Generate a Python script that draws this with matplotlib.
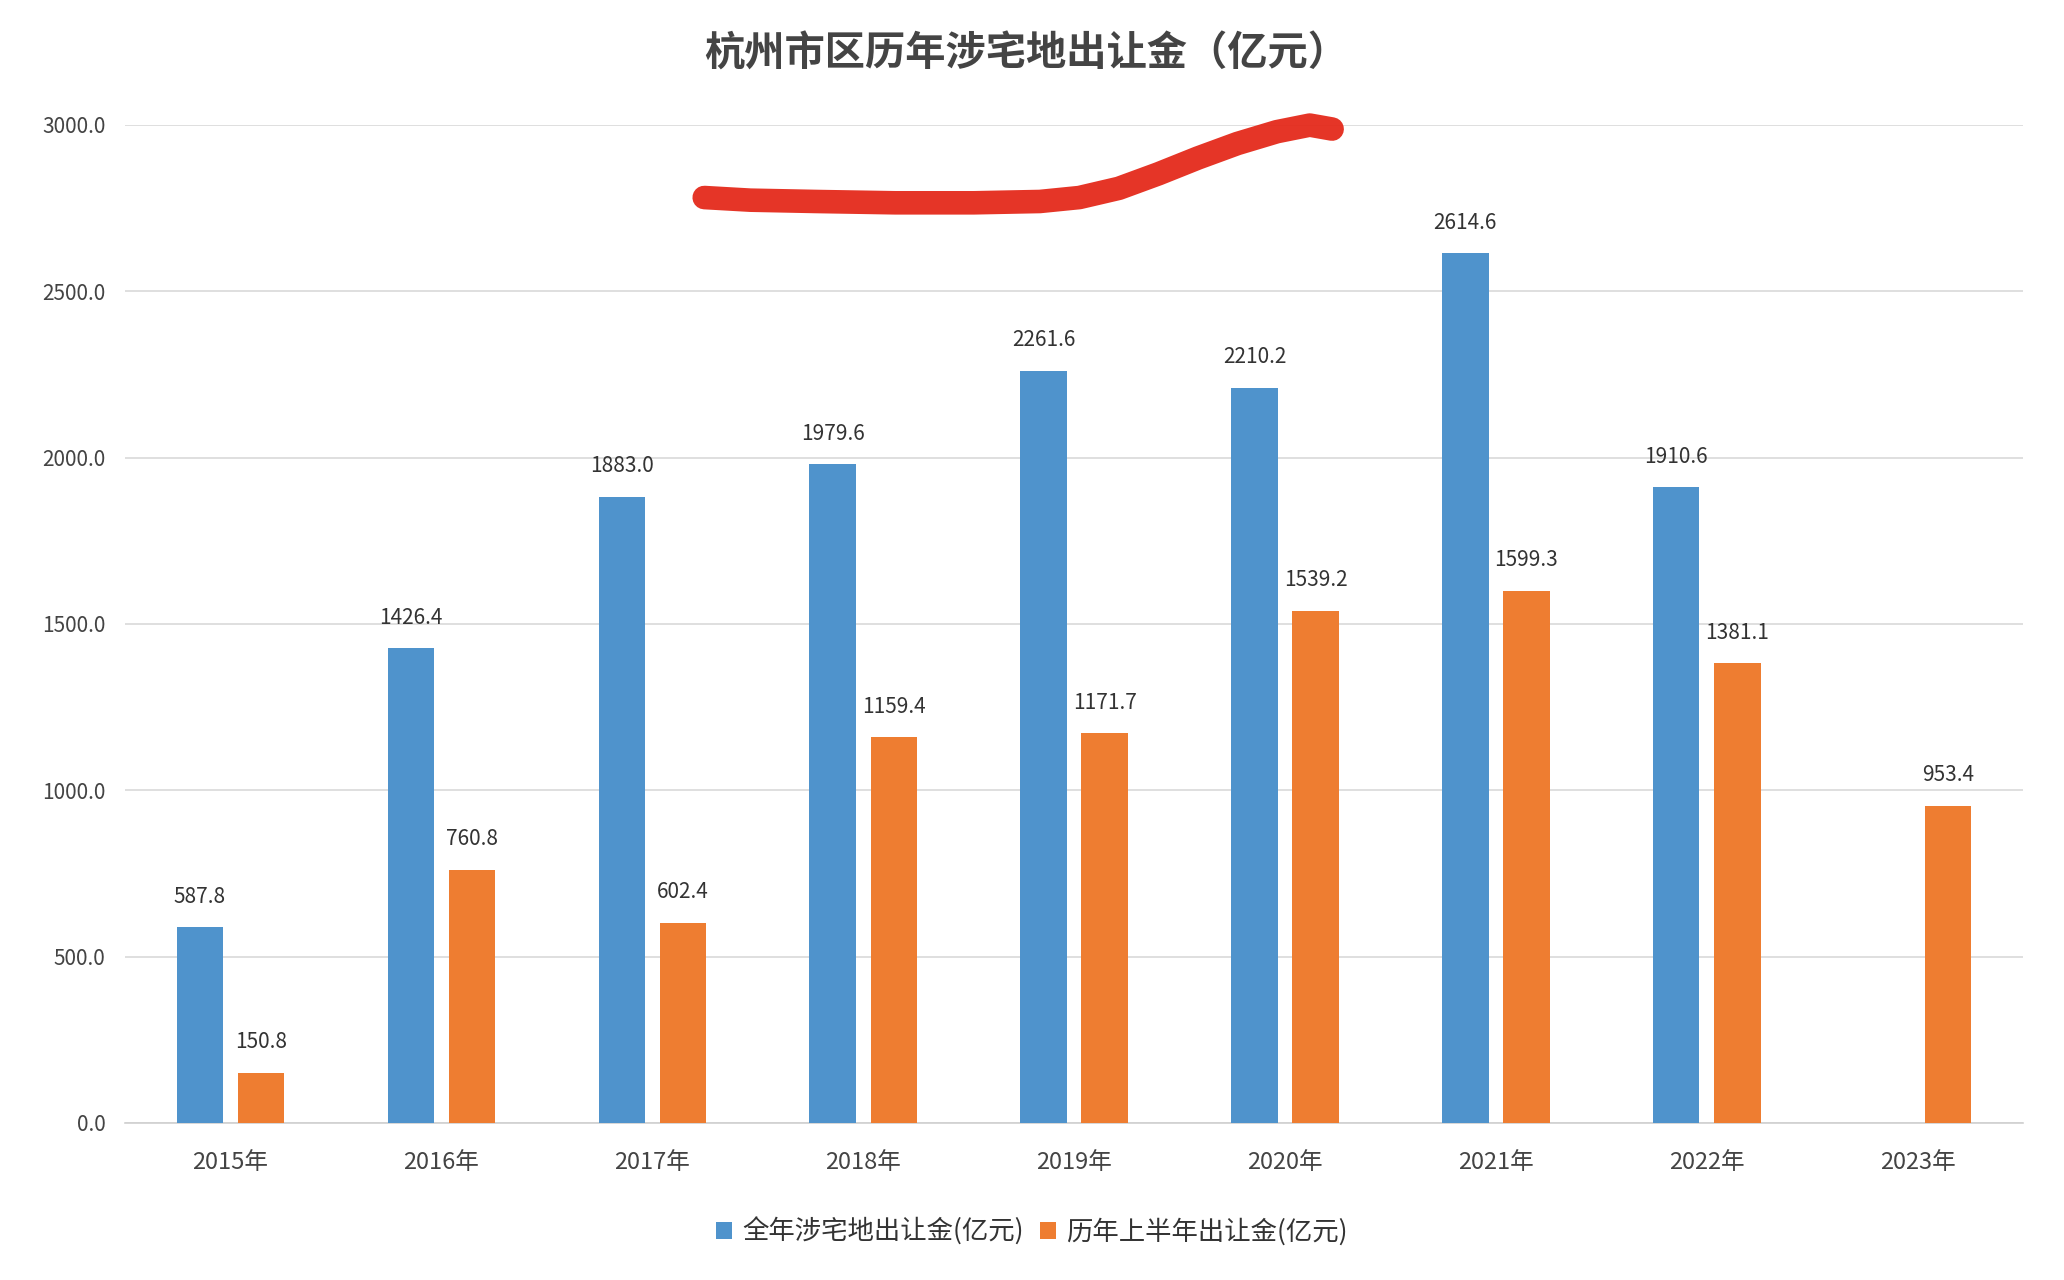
import matplotlib.pyplot as plt
import numpy as np

plt.rcParams['font.family'] = ['Noto Sans CJK SC', 'DejaVu Sans']

years = ['2015年', '2016年', '2017年', '2018年', '2019年', '2020年', '2021年', '2022年', '2023年']
full_year = [587.8, 1426.4, 1883.0, 1979.6, 2261.6, 2210.2, 2614.6, 1910.6, None]
first_half = [150.8, 760.8, 602.4, 1159.4, 1171.7, 1539.2, 1599.3, 1381.1, 953.4]

blue = '#4F93CC'
orange = '#EE7D31'

fig = plt.figure(figsize=(20.64, 12.80), dpi=100)
ax = fig.add_axes([0.0606, 0.1227, 0.9196, 0.7797])

x = np.arange(len(years))
w = 0.22
off = 0.145

fy_x = [xi for xi, v in zip(x, full_year) if v is not None]
fy_v = [v for v in full_year if v is not None]
b1 = ax.bar(np.array(fy_x) - off, fy_v, w, color=blue, label='全年涉宅地出让金(亿元)', zorder=3)
b2 = ax.bar(x + off, first_half, w, color=orange, label='历年上半年出让金(亿元)', zorder=3)

for bars, vals in ((b1, fy_v), (b2, first_half)):
    for r, v in zip(bars, vals):
        ax.annotate(f'{v:.1f}', (r.get_x() + r.get_width() / 2, v),
                    xytext=(0, 14), textcoords='offset points',
                    ha='center', va='bottom', fontsize=15, color='#333333')

ax.set_xlim(-0.5, len(years) - 0.5)
ax.set_ylim(0, 3000)
ax.set_yticks(np.arange(0, 3001, 500))
ax.set_yticklabels([f'{t:.1f}' for t in np.arange(0, 3001, 500)], fontsize=15, color='#444444')
ax.set_xticks(x)
ax.set_xticklabels(years, fontsize=17, color='#444444')
ax.tick_params(axis='y', length=0, pad=14)
ax.tick_params(axis='x', length=0, pad=20)
ax.grid(axis='y', color='#D9D9D9', linewidth=1.2, zorder=0)
for s in ('top', 'right', 'left'):
    ax.spines[s].set_visible(False)
ax.spines['bottom'].set_color('#D0D0D0')
ax.spines['bottom'].set_linewidth(1.2)

fig.text(0.497, 0.958, '杭州市区历年涉宅地出让金（亿元）', ha='center', va='center',
         fontsize=29, fontweight='bold', color='#444444')

leg = fig.legend(loc='center', bbox_to_anchor=(0.5, 0.038), ncol=2, frameon=False,
                 fontsize=19, handlelength=0.6, handleheight=0.6, handletextpad=0.4,
                 columnspacing=0.6, labelcolor='#333333')

# hand-drawn red stroke over the chart
sx = [535, 570, 620, 680, 740, 790, 820, 850, 880, 910, 940, 970, 995, 1012]
sy = [150, 152, 153, 154, 154, 153, 150, 143, 132, 120, 109, 100, 95, 98]
fig.add_artist(plt.Line2D([p / 1568 for p in sx], [1 - p / 972 for p in sy],
                          transform=fig.transFigure, color='#E42A1B', linewidth=17,
                          solid_capstyle='round', solid_joinstyle='round', alpha=0.95))

fig.savefig('out.png', dpi=100, facecolor='white')
